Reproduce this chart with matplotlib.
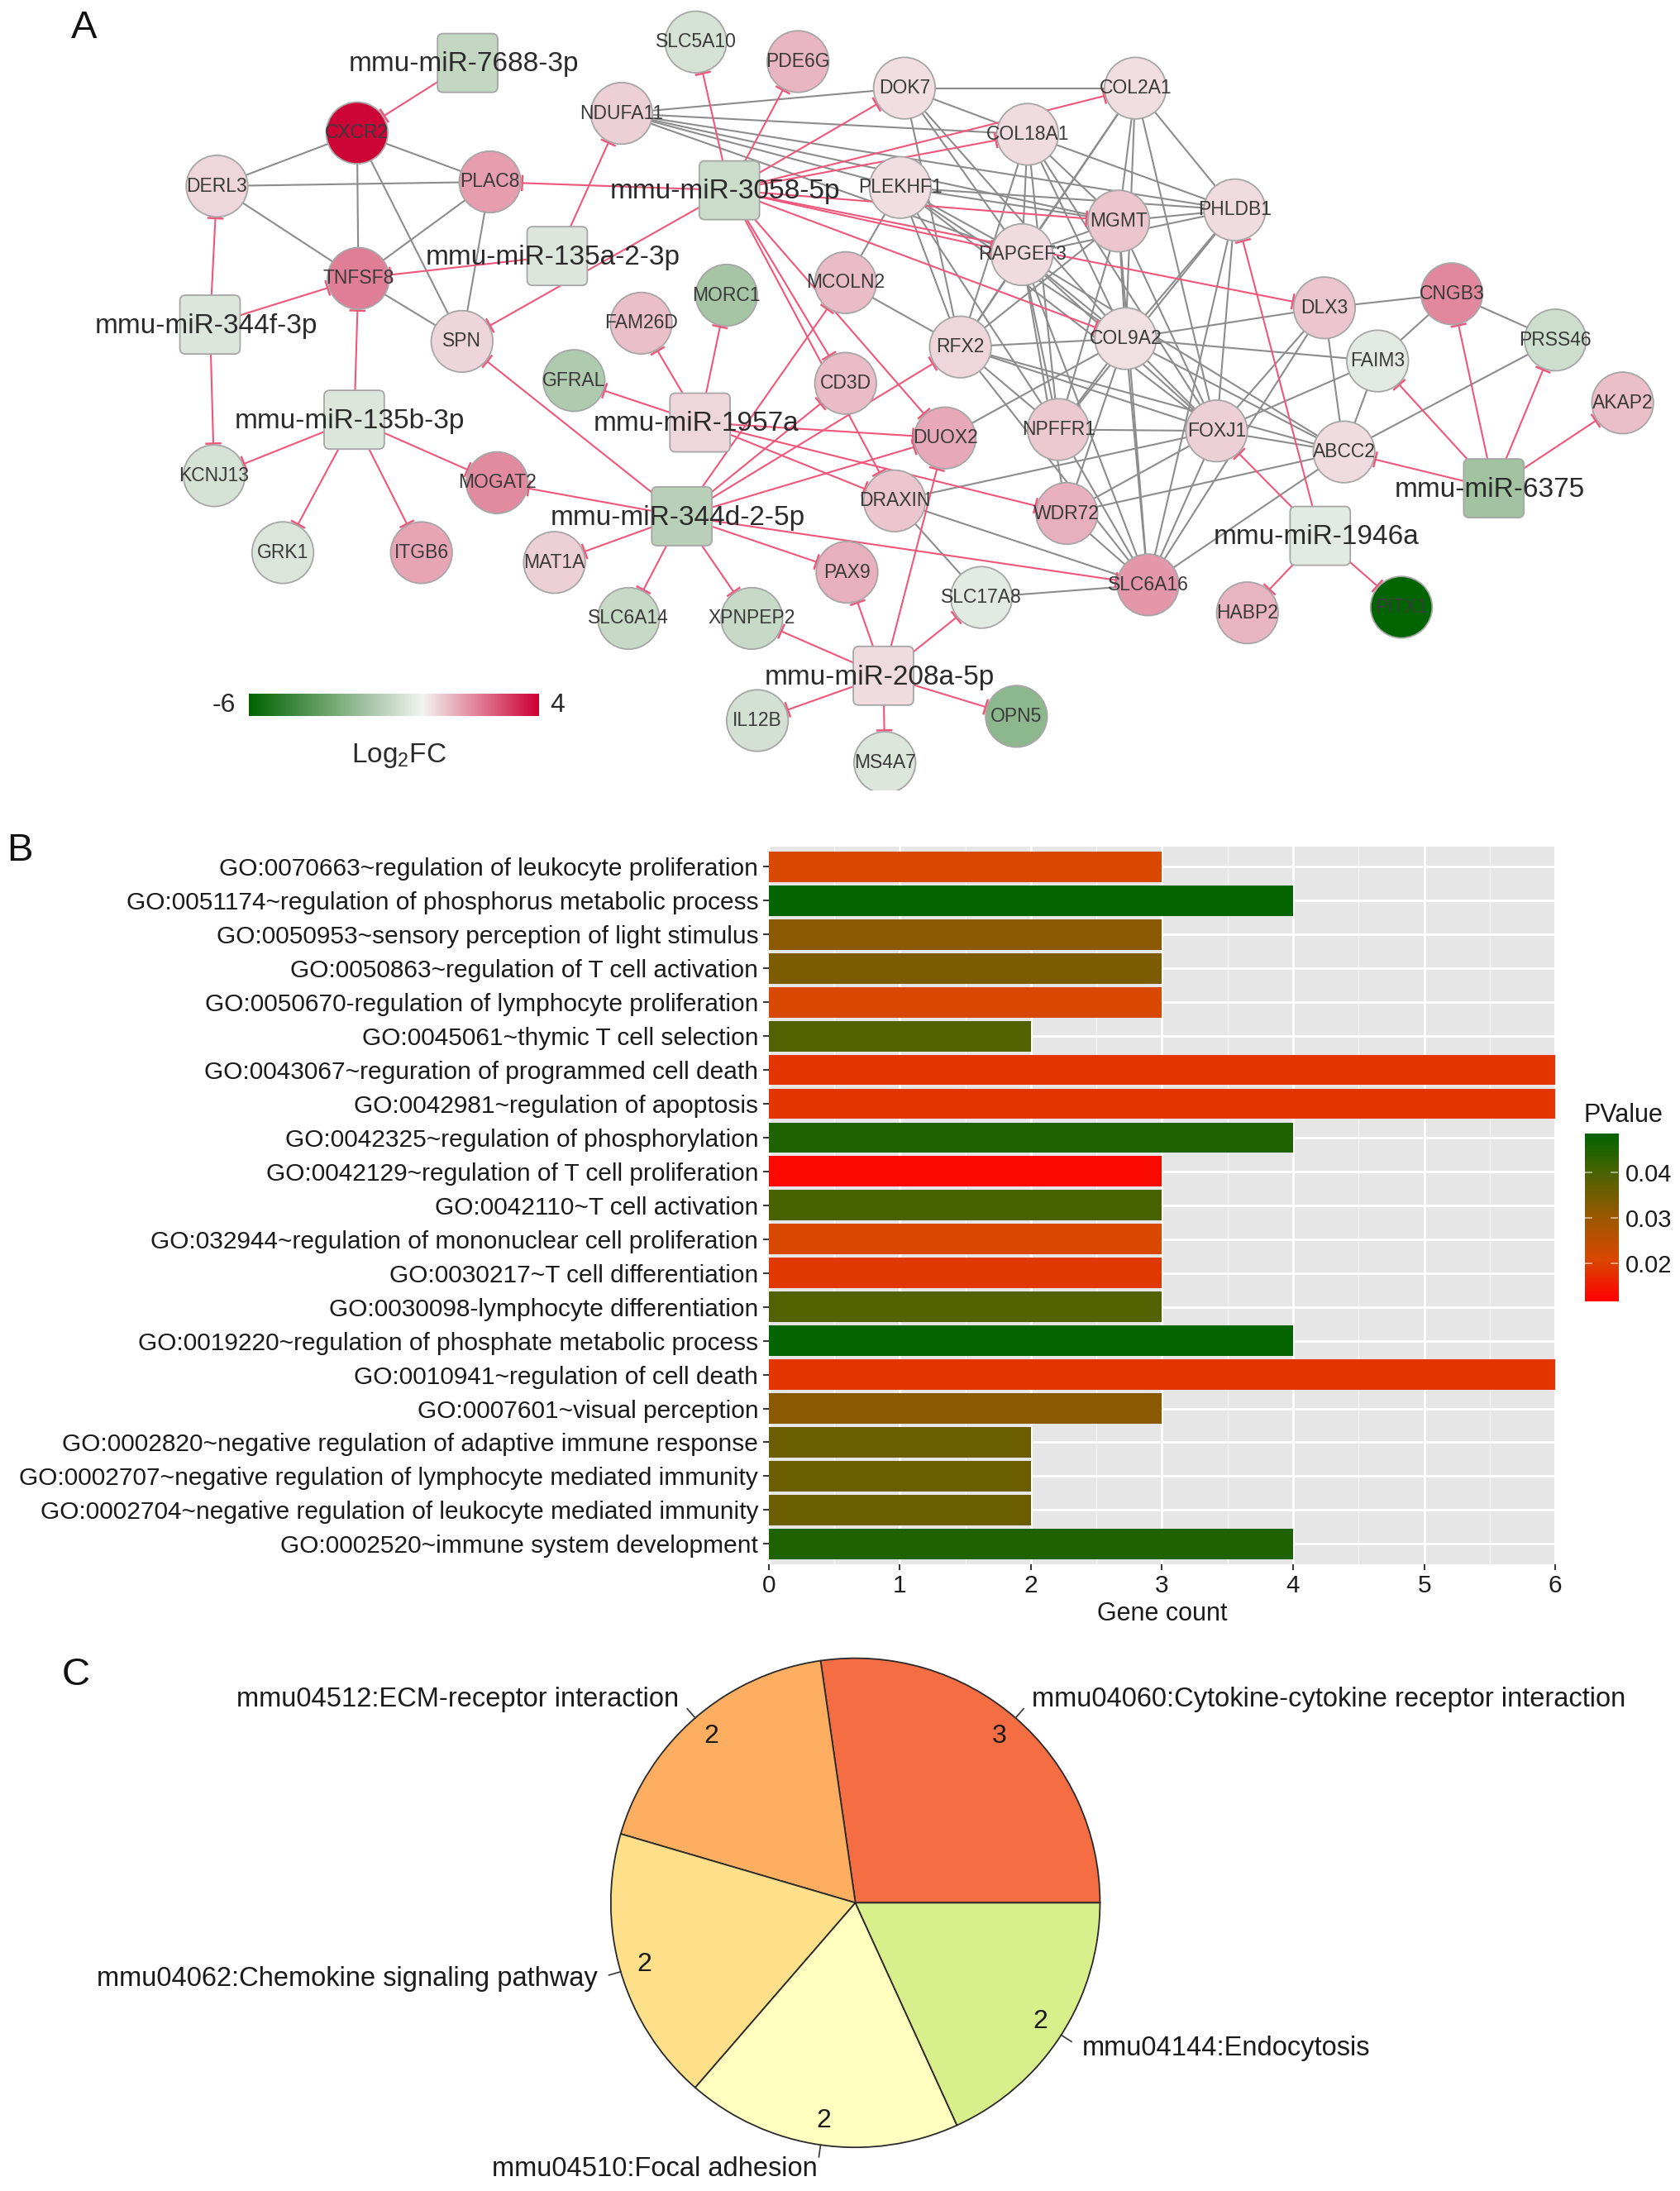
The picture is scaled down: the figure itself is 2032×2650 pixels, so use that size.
import numpy as np
import matplotlib
matplotlib.use('Agg')
import matplotlib.pyplot as plt
from matplotlib import font_manager
from matplotlib.colors import LinearSegmentedColormap, Normalize
from matplotlib.patches import Circle, FancyBboxPatch

names = {f.name for f in font_manager.fontManager.ttflist}
NARROW = 'Liberation Sans Narrow' if 'Liberation Sans Narrow' in names else 'Liberation Sans'
GENE_FS = 19 if NARROW == 'Liberation Sans Narrow' else 16.5
plt.rcParams['font.family'] = ['Liberation Sans', 'DejaVu Sans']

# ---------------- data: panel A (miRNA - mRNA network) ----------------
mirnas = ['mmu-miR-7688-3p', 'mmu-miR-3058-5p', 'mmu-miR-135a-2-3p', 'mmu-miR-344f-3p',
          'mmu-miR-135b-3p', 'mmu-miR-1957a', 'mmu-miR-344d-2-5p', 'mmu-miR-208a-5p',
          'mmu-miR-1946a', 'mmu-miR-6375']
mirna_fc = [-1.2, -1.0, -0.55, -0.55, -0.55, 0.45, -1.45, 0.4, -0.4, -2.0]

genes = ['SLC5A10', 'PDE6G', 'NDUFA11', 'DOK7', 'COL2A1', 'COL18A1', 'CXCR2', 'DERL3', 'PLAC8',
         'PLEKHF1', 'MGMT', 'PHLDB1', 'RAPGEF3', 'TNFSF8', 'MCOLN2', 'COL9A2', 'DLX3', 'CNGB3',
         'PRSS46', 'FAIM3', 'MORC1', 'FAM26D', 'SPN', 'GFRAL', 'RFX2', 'CD3D', 'AKAP2', 'DUOX2',
         'NPFFR1', 'FOXJ1', 'ABCC2', 'KCNJ13', 'MOGAT2', 'DRAXIN', 'WDR72', 'GRK1', 'ITGB6',
         'MAT1A', 'SLC6A16', 'PAX9', 'SLC17A8', 'SLC6A14', 'XPNPEP2', 'HABP2', 'PITX1', 'IL12B',
         'MS4A7', 'OPN5']
gene_fc = [-0.7, 1.0, 0.6, 0.35, 0.35, 0.4, 3.9, 0.45, 1.4,
           0.35, 0.75, 0.4, 0.4, 1.9, 0.9, 0.3, 0.75, 1.75,
           -0.9, -0.4, -1.9, 0.85, 0.5, -1.7, 0.45, 0.9, 0.85, 1.2,
           0.7, 0.6, 0.4, -0.7, 1.7, 0.75, 1.1, -0.6, 1.3,
           0.6, 1.5, 1.1, -0.4, -1.1, -1.1, 1.0, -6.0, -0.8,
           -0.55, -2.5]

targets = {
    'mmu-miR-7688-3p': ['CXCR2'],
    'mmu-miR-3058-5p': ['SLC5A10', 'PDE6G', 'DOK7', 'COL2A1', 'COL18A1', 'MGMT', 'RAPGEF3',
                        'COL9A2', 'DLX3', 'CD3D', 'DRAXIN', 'DUOX2', 'PLAC8', 'SPN'],
    'mmu-miR-135a-2-3p': ['TNFSF8', 'NDUFA11'],
    'mmu-miR-344f-3p': ['DERL3', 'TNFSF8', 'KCNJ13'],
    'mmu-miR-135b-3p': ['TNFSF8', 'KCNJ13', 'GRK1', 'ITGB6', 'MOGAT2'],
    'mmu-miR-1957a': ['GFRAL', 'FAM26D', 'MORC1', 'DUOX2', 'DRAXIN', 'WDR72'],
    'mmu-miR-344d-2-5p': ['SPN', 'MOGAT2', 'MAT1A', 'SLC6A14', 'XPNPEP2', 'PAX9', 'SLC6A16',
                          'MCOLN2', 'CD3D', 'RFX2', 'DUOX2'],
    'mmu-miR-208a-5p': ['XPNPEP2', 'PAX9', 'DUOX2', 'SLC17A8', 'IL12B', 'MS4A7', 'OPN5'],
    'mmu-miR-1946a': ['FOXJ1', 'PHLDB1', 'HABP2', 'PITX1'],
    'mmu-miR-6375': ['ABCC2', 'FAIM3', 'CNGB3', 'PRSS46', 'AKAP2'],
}

ppi = [
    ('CXCR2', 'DERL3'), ('CXCR2', 'PLAC8'), ('CXCR2', 'TNFSF8'), ('CXCR2', 'SPN'),
    ('DERL3', 'PLAC8'), ('DERL3', 'TNFSF8'), ('PLAC8', 'TNFSF8'), ('PLAC8', 'SPN'), ('TNFSF8', 'SPN'),
    ('NDUFA11', 'DOK7'), ('NDUFA11', 'COL18A1'), ('NDUFA11', 'MGMT'), ('NDUFA11', 'PHLDB1'),
    ('NDUFA11', 'RAPGEF3'), ('NDUFA11', 'PLEKHF1'),
    ('DOK7', 'COL2A1'), ('DOK7', 'COL18A1'), ('DOK7', 'RAPGEF3'), ('DOK7', 'RFX2'), ('DOK7', 'COL9A2'),
    ('COL2A1', 'MGMT'), ('COL2A1', 'RAPGEF3'), ('COL2A1', 'PHLDB1'), ('COL2A1', 'COL9A2'),
    ('COL2A1', 'FOXJ1'), ('COL2A1', 'RFX2'),
    ('COL18A1', 'PHLDB1'), ('COL18A1', 'MGMT'), ('COL18A1', 'RAPGEF3'), ('COL18A1', 'COL9A2'),
    ('COL18A1', 'RFX2'), ('COL18A1', 'NPFFR1'), ('COL18A1', 'FOXJ1'),
    ('PLEKHF1', 'PHLDB1'), ('PLEKHF1', 'MGMT'), ('PLEKHF1', 'RAPGEF3'), ('PLEKHF1', 'COL9A2'),
    ('PLEKHF1', 'RFX2'), ('PLEKHF1', 'MCOLN2'), ('PLEKHF1', 'NPFFR1'), ('PLEKHF1', 'FOXJ1'),
    ('MGMT', 'PHLDB1'), ('MGMT', 'RAPGEF3'), ('MGMT', 'COL9A2'), ('MGMT', 'RFX2'), ('MGMT', 'NPFFR1'),
    ('MGMT', 'FOXJ1'), ('MGMT', 'SLC6A16'),
    ('PHLDB1', 'RAPGEF3'), ('PHLDB1', 'COL9A2'), ('PHLDB1', 'FOXJ1'), ('PHLDB1', 'NPFFR1'),
    ('PHLDB1', 'SLC6A16'),
    ('RAPGEF3', 'COL9A2'), ('RAPGEF3', 'RFX2'), ('RAPGEF3', 'NPFFR1'), ('RAPGEF3', 'FOXJ1'),
    ('RAPGEF3', 'SLC6A16'), ('RAPGEF3', 'WDR72'), ('RAPGEF3', 'ABCC2'),
    ('MCOLN2', 'RFX2'),
    ('RFX2', 'COL9A2'), ('RFX2', 'FOXJ1'), ('RFX2', 'NPFFR1'), ('RFX2', 'SLC6A16'), ('RFX2', 'ABCC2'),
    ('COL9A2', 'DLX3'), ('COL9A2', 'FAIM3'), ('COL9A2', 'FOXJ1'), ('COL9A2', 'NPFFR1'),
    ('COL9A2', 'SLC6A16'), ('COL9A2', 'WDR72'), ('COL9A2', 'ABCC2'), ('COL9A2', 'DUOX2'),
    ('DLX3', 'CNGB3'), ('DLX3', 'FOXJ1'), ('DLX3', 'ABCC2'), ('DLX3', 'SLC6A16'),
    ('CNGB3', 'PRSS46'), ('CNGB3', 'FAIM3'), ('PRSS46', 'ABCC2'),
    ('FAIM3', 'ABCC2'), ('FAIM3', 'FOXJ1'),
    ('FOXJ1', 'NPFFR1'), ('FOXJ1', 'ABCC2'), ('FOXJ1', 'SLC6A16'), ('FOXJ1', 'DRAXIN'), ('FOXJ1', 'WDR72'),
    ('ABCC2', 'WDR72'), ('ABCC2', 'SLC6A16'),
    ('NPFFR1', 'SLC6A16'),
    ('DRAXIN', 'SLC6A16'), ('DRAXIN', 'SLC17A8'),
    ('SLC17A8', 'SLC6A16'), ('WDR72', 'SLC6A16'),
]

# ---------------- data: panel B (GO terms) ----------------
go_terms = ['GO:0070663~regulation of leukocyte proliferation',
            'GO:0051174~regulation of phosphorus metabolic process',
            'GO:0050953~sensory perception of light stimulus',
            'GO:0050863~regulation of T cell activation',
            'GO:0050670-regulation of lymphocyte proliferation',
            'GO:0045061~thymic T cell selection',
            'GO:0043067~reguration of programmed cell death',
            'GO:0042981~regulation of apoptosis',
            'GO:0042325~regulation of phosphorylation',
            'GO:0042129~regulation of T cell proliferation',
            'GO:0042110~T cell activation',
            'GO:032944~regulation of mononuclear cell proliferation',
            'GO:0030217~T cell differentiation',
            'GO:0030098-lymphocyte differentiation',
            'GO:0019220~regulation of phosphate metabolic process',
            'GO:0010941~regulation of cell death',
            'GO:0007601~visual perception',
            'GO:0002820~negative regulation of adaptive immune response',
            'GO:0002707~negative regulation of lymphocyte mediated immunity',
            'GO:0002704~negative regulation of leukocyte mediated immunity',
            'GO:0002520~immune system development']
go_counts = [3, 4, 3, 3, 3, 2, 6, 6, 4, 3, 3, 3, 3, 3, 4, 6, 3, 2, 2, 2, 4]
go_pvalues = [0.021, 0.048, 0.032, 0.034, 0.021, 0.039, 0.0185, 0.0185, 0.045, 0.013, 0.040,
              0.021, 0.019, 0.039, 0.048, 0.0185, 0.032, 0.036, 0.036, 0.036, 0.045]

# ---------------- data: panel C (KEGG pathways) ----------------
kegg_terms = ['mmu04060:Cytokine-cytokine receptor interaction', 'mmu04512:ECM-receptor interaction',
              'mmu04062:Chemokine signaling pathway', 'mmu04510:Focal adhesion',
              'mmu04144:Endocytosis']
kegg_counts = [3, 2, 2, 2, 2]
kegg_colors = ['#f46d43', '#fdae61', '#fee08b', '#ffffbf', '#d9ef8b']

# ---------------- network layout (reference units, y downwards) ----------------
pos = {
    'mmu-miR-7688-3p': (334, 45), 'mmu-miR-3058-5p': (521, 136), 'mmu-miR-135a-2-3p': (398, 183),
    'mmu-miR-344f-3p': (150, 232), 'mmu-miR-135b-3p': (253, 300), 'mmu-miR-1957a': (500, 302),
    'mmu-miR-344d-2-5p': (487, 369), 'mmu-miR-208a-5p': (631, 483), 'mmu-miR-1946a': (943, 383),
    'mmu-miR-6375': (1067, 349),
    'SLC5A10': (497, 30), 'PDE6G': (570, 44), 'NDUFA11': (444, 81), 'DOK7': (646, 63),
    'COL2A1': (811, 63), 'COL18A1': (734, 96), 'CXCR2': (255, 95), 'DERL3': (155, 133),
    'PLAC8': (350, 130), 'PLEKHF1': (643, 134), 'MGMT': (799, 158), 'PHLDB1': (882, 150),
    'RAPGEF3': (730, 182), 'TNFSF8': (256, 199), 'MCOLN2': (604, 202), 'COL9A2': (804, 242),
    'DLX3': (946, 220), 'CNGB3': (1037, 210), 'PRSS46': (1111, 243), 'FAIM3': (984, 258),
    'MORC1': (519, 211), 'FAM26D': (458, 231), 'SPN': (330, 244), 'GFRAL': (410, 272),
    'RFX2': (686, 248), 'CD3D': (604, 274), 'AKAP2': (1159, 288), 'DUOX2': (675, 313),
    'NPFFR1': (756, 307), 'FOXJ1': (869, 308), 'ABCC2': (960, 323), 'KCNJ13': (153, 340),
    'MOGAT2': (355, 345), 'DRAXIN': (639, 358), 'WDR72': (762, 367), 'GRK1': (202, 395),
    'ITGB6': (301, 395), 'MAT1A': (396, 402), 'SLC6A16': (820, 418), 'PAX9': (605, 409),
    'SLC17A8': (701, 427), 'SLC6A14': (449, 442), 'XPNPEP2': (537, 442), 'HABP2': (891, 438),
    'PITX1': (1001, 434), 'IL12B': (541, 515), 'MS4A7': (632, 545), 'OPN5': (726, 512),
}

W, H = 1200, 1566
RED = '#f0567a'
GREY = '#8c8c8c'
R_NODE = 22


def frac(x0, y0, x1, y1):
    return [x0 / W, 1 - y1 / H, (x1 - x0) / W, (y1 - y0) / H]


fig = plt.figure(figsize=(20.32, 26.5), dpi=100)

# ================= Panel A =================
axA = fig.add_axes(frac(0, 0, 1200, 565))
axA.set_xlim(0, 1200)
axA.set_ylim(565, 0)
axA.axis('off')

fc_cmap = LinearSegmentedColormap.from_list('fc', [(0, '#006400'), (0.6, '#f3f3f3'), (1, '#cc0033')])
fc_norm = Normalize(-6, 4)

for a, b in ppi:
    (x0, y0), (x1, y1) = pos[a], pos[b]
    axA.plot([x0, x1], [y0, y1], color=GREY, lw=1.5, zorder=1)

for m, tg in targets.items():
    x0, y0 = pos[m]
    for g in tg:
        x1, y1 = pos[g]
        L = np.hypot(x1 - x0, y1 - y0)
        ux, uy = (x1 - x0) / L, (y1 - y0) / L
        ex, ey = x1 - ux * (R_NODE + 1), y1 - uy * (R_NODE + 1)
        axA.plot([x0, ex], [y0, ey], color=RED, lw=1.5, zorder=2)
        axA.plot([ex + uy * 5, ex - uy * 5], [ey - ux * 5, ey + ux * 5], color=RED, lw=1.8, zorder=2)

for g, v in zip(genes, gene_fc):
    x, y = pos[g]
    axA.add_patch(Circle((x, y), R_NODE, facecolor=fc_cmap(fc_norm(v)), edgecolor='#a6a6a6',
                         lw=1.3, zorder=3))
    axA.text(x, y, g, ha='center', va='center', fontsize=GENE_FS, family=[NARROW, 'DejaVu Sans'],
             color='#3a3a3a', zorder=4)

for m, v in zip(mirnas, mirna_fc):
    x, y = pos[m]
    axA.add_patch(FancyBboxPatch((x - 21.5, y - 21), 43, 42, boxstyle='round,pad=0,rounding_size=4',
                                 facecolor=fc_cmap(fc_norm(v)), edgecolor='#a6a6a6', lw=1.3, zorder=3))
    axA.text(x - 3, y + 1, m, ha='center', va='center', fontsize=24, color='#2a2a2a', zorder=4)

# Log2FC legend
axL = fig.add_axes(frac(178, 496, 385, 512))
axL.imshow(np.linspace(-6, 4, 256)[None, :], cmap=fc_cmap, norm=fc_norm, aspect='auto',
           extent=[-6, 4, 0, 1])
axL.axis('off')
for v, xt in zip([-6, 0, 4], [160, 293, 398]):
    axA.text(xt, 504, str(v), ha='center', va='center', fontsize=23, color='#2a2a2a', zorder=5)
axA.text(285, 540, r'$\mathregular{Log_2FC}$', ha='center', va='center', fontsize=24, color='#2a2a2a')

# ================= Panel B =================
axB = fig.add_axes(frac(549, 605, 1111, 1118))
pv_cmap = LinearSegmentedColormap.from_list('pv', ['#ff0000', '#d94800', '#9a5800', '#4f6200', '#006400'])
pv_norm = Normalize(0.0118, 0.0485)
n = len(go_terms)
ypos = np.arange(n)[::-1]
axB.barh(ypos, go_counts, height=0.9, color=pv_cmap(pv_norm(np.array(go_pvalues))), zorder=3)
axB.set_facecolor('#e6e6e6')
axB.set_xlim(0, 6)
axB.set_ylim(-0.6, n - 0.4)
axB.set_yticks(ypos)
axB.set_yticklabels(go_terms)
axB.set_xticks(range(7))
axB.set_xticks(np.arange(0.5, 6, 1), minor=True)
axB.grid(which='major', color='white', lw=2.0, zorder=1)
axB.grid(which='minor', axis='x', color='#f2f2f2', lw=1.0, zorder=1)
for s in axB.spines.values():
    s.set_visible(False)
axB.tick_params(which='major', length=5, width=1.4, color='#333333', labelsize=21.5,
                labelcolor='#1a1a1a', pad=4)
axB.tick_params(which='minor', length=0)
axB.set_xlabel('Gene count', fontsize=22, color='#1a1a1a', labelpad=3)

# PValue colourbar
axP = fig.add_axes(frac(1132, 810, 1156, 930))
axP.imshow(np.linspace(0.0118, 0.0485, 256)[:, None], cmap=pv_cmap, norm=pv_norm, aspect='auto',
           origin='lower', extent=[0, 1, 0.0118, 0.0485])
axP.set_xlim(0, 1)
axP.set_ylim(0.0118, 0.0485)
for t in [0.02, 0.03, 0.04]:
    axP.plot([0, 0.2], [t, t], color='white', lw=1.2, alpha=0.6)
    axP.plot([0.8, 1], [t, t], color='white', lw=1.2, alpha=0.6)
axP.set_xticks([])
axP.yaxis.tick_right()
axP.set_yticks([0.02, 0.03, 0.04])
axP.set_yticklabels(['0.02', '0.03', '0.04'])
axP.tick_params(length=0, labelsize=21, labelcolor='#1a1a1a', pad=6)
for s in axP.spines.values():
    s.set_visible(False)
fig.text(1131 / W, 1 - 797 / H, 'PValue', ha='left', va='center', fontsize=22, color='#1a1a1a')

# ================= Panel C =================
axC = fig.add_axes(frac(611 - 236, 1360 - 236, 611 + 236, 1360 + 236))
wedges, _ = axC.pie(kegg_counts, colors=kegg_colors, startangle=0, counterclock=True, radius=1,
                    wedgeprops=dict(edgecolor='#2a2a2a', linewidth=1.3))
axC.set_xlim(-1.35, 1.35)
axC.set_ylim(-1.35, 1.35)
axC.set_aspect('equal')
axC.axis('off')
total = sum(kegg_counts)
start = 0.0
for term, c in zip(kegg_terms, kegg_counts):
    mid = np.deg2rad(start + c / total * 180)
    start += c / total * 360
    cx, cy = np.cos(mid), np.sin(mid)
    axC.text(0.9 * cx, 0.9 * cy, str(c), ha='center', va='center', fontsize=23, color='#1a1a1a')
    axC.plot([cx, 1.05 * cx], [cy, 1.05 * cy], color='#333333', lw=1.2)
    axC.text(1.1 * cx, 1.1 * cy, term, ha='left' if cx > 0 else 'right', va='center',
             fontsize=23.5, color='#1a1a1a')

# panel letters
for letter, (lx, ly) in zip('ABC', [(60, 20), (14, 608), (54, 1197)]):
    fig.text(lx / W, 1 - ly / H, letter, ha='center', va='center', fontsize=34, color='#111111')

fig.savefig('out.png', dpi=100)
